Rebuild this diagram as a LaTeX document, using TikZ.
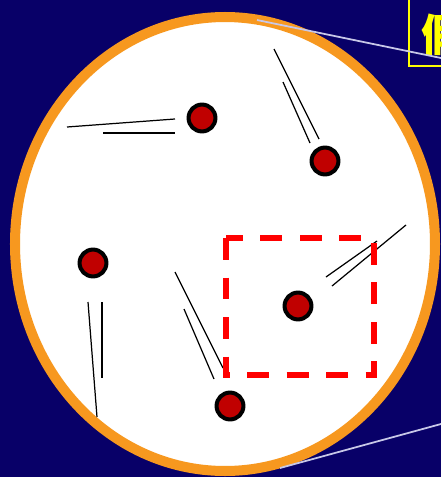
\documentclass[tikz,border=0pt]{standalone}
\usepackage{fontspec}
\newfontfamily\cjk{Noto Sans CJK SC}
\usepackage{tikz}
\definecolor{navy}{RGB}{8, 0, 104}
\definecolor{rim}{RGB}{247, 152, 31}
\definecolor{dotred}{RGB}{192, 0, 0}
\definecolor{guide}{RGB}{200, 200, 232}
\definecolor{sign}{RGB}{255, 255, 0}
\usetikzlibrary{positioning}

\begin{document}
\begin{tikzpicture}[x=0.02cm, y=-0.02cm,
    dot/.style={circle, draw=black, line width=2.3pt, fill=dotred,
                minimum size=15.3pt, inner sep=0pt},
    stick/.style={black, line width=0.7pt},
    thick stick/.style={black, line width=1.3pt},
    zoomline/.style={guide, line width=1pt}
]
    \useasboundingbox (0,0) rectangle (441,477);
    \clip (0,0) rectangle (441,477);
    \fill[navy] (0,0) rectangle (441,477);

    % Label box (cut off at the edge)
    \draw[sign, line width=0.9pt] (409,-10) rectangle (470,66);
    \node[anchor=west, text=sign, inner sep=0pt] (label) at (421,35)
        {\cjk\bfseries\fontsize{25}{25}\selectfont 假};

    % Container
    \draw[rim, fill=white, line width=5.7pt] (225,244) ellipse [x radius=210, y radius=227];

    % Zoom guides
    \draw[zoomline] (257,20) -- (441,58);
    \draw[zoomline] (280,468) -- (441,424);

    % Molecules
    \node[dot] (d1) at (202,118) {};
    \node[dot] (d2) at (325,161) {};
    \node[dot] (d3) at (93,263) {};
    \node[dot] (d4) at (298,306) {};
    \node[dot] (d5) at (230,406) {};

    % Sticks
    \draw[stick] (67,127) -- (175,119);
    \draw[thick stick] (103,133) -- (175,133);
    \draw[stick] (274,49) -- (319,139);
    \draw[stick] (283,82) -- (310,143);
    \draw[stick] (88,302) -- (97,417);
    \draw[thick stick] (102,302) -- (102,378);
    \draw[stick] (175,272) -- (223,368);
    \draw[stick] (184,309) -- (214,379);
    \draw[stick] (326,277) -- (377,241);
    \draw[stick] (332,286) -- (406,225);

    % Selection
    \draw[red, line width=3.4pt, dash pattern=on 12.5pt off 10pt]
        (226,238) rectangle (374,375);
\end{tikzpicture}
\end{document}
